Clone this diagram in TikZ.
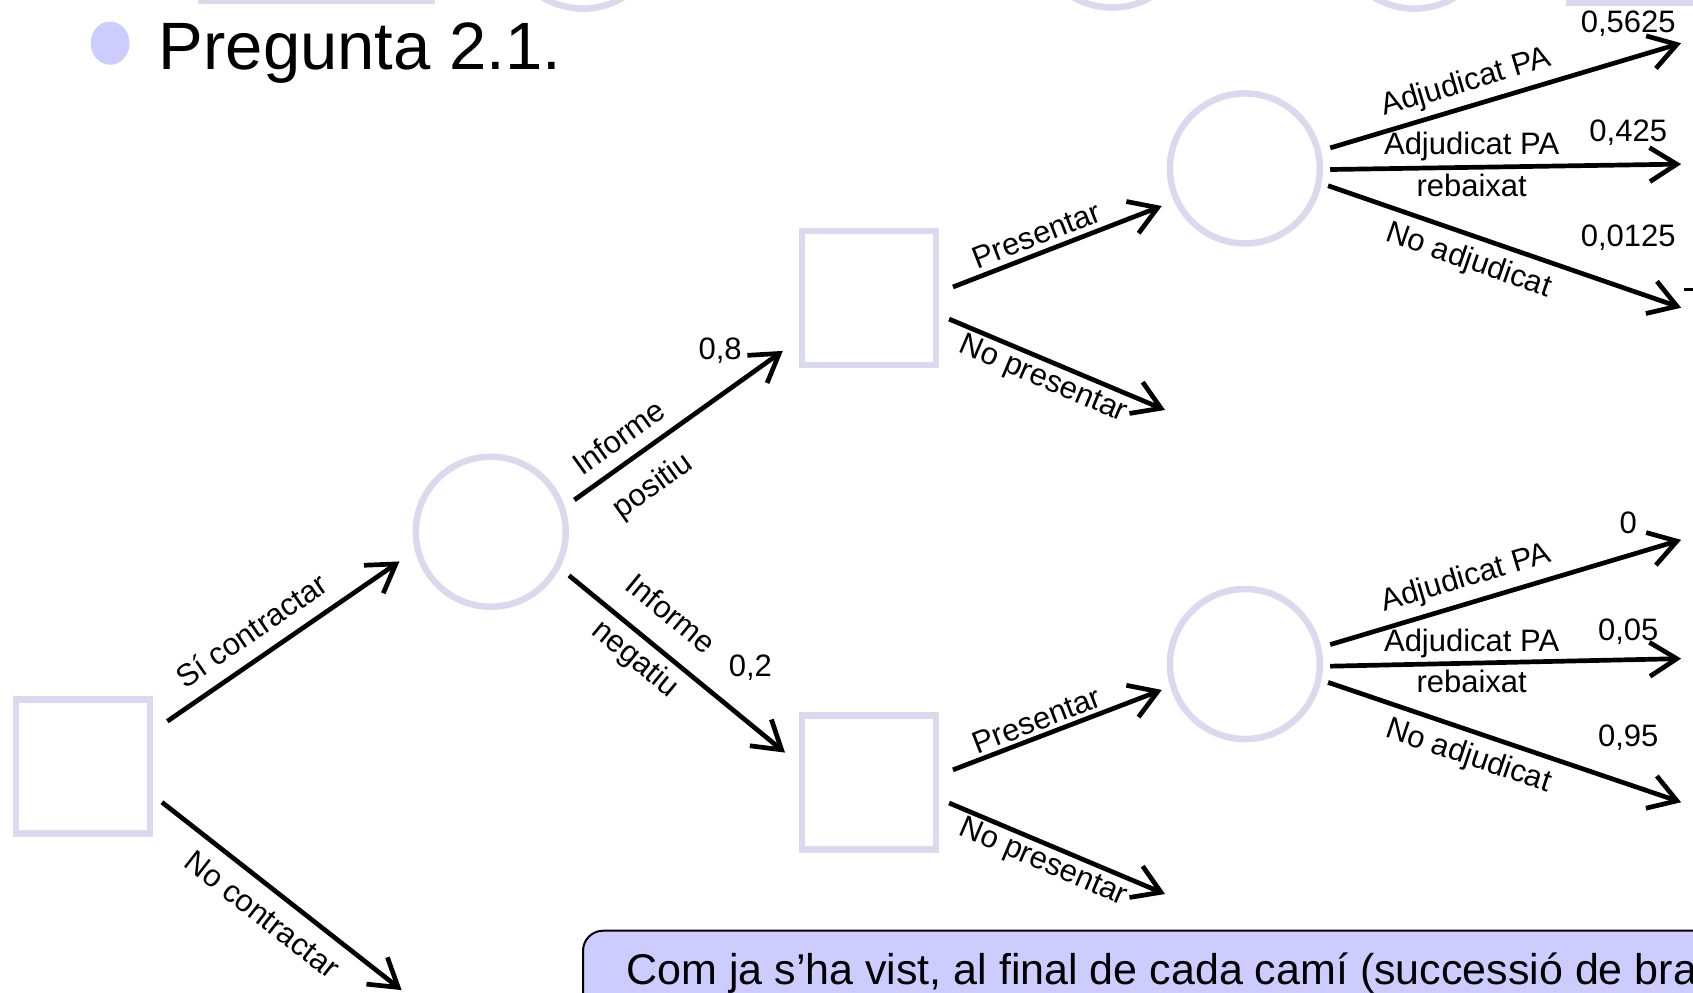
\documentclass[tikz,border=0pt]{standalone}
\usepackage{fontspec}
\setmainfont{Liberation Sans}
\usetikzlibrary{arrows.meta}
\definecolor{shp}{RGB}{218,218,238}
\definecolor{fillb}{RGB}{204,204,255}
\begin{document}
\begin{tikzpicture}[x=1.0797pt, y=-1.0797pt,
  dbox/.style={draw=shp, line width=6.5pt, minimum size=134pt, inner sep=0pt, rectangle},
  cnode/.style={draw=shp, line width=6.5pt, minimum size=150pt, inner sep=0pt, circle},
  arr/.style={line width=4.7pt, -{Straight Barb[length=27pt,width=34pt,line width=4.7pt]}},
  lbl/.style={font=\fontsize{31}{36}\selectfont, inner sep=0pt},
  part/.style={draw=shp, line width=6.5pt},
]
\useasboundingbox (0,0) rectangle (1568,919);
\clip (0,0) rectangle (1568,919);

% partial shapes at the top edge
\draw[part] (186,-80) rectangle (400,1);
\draw[part] (540,-64) circle [radius=72];
\draw[part] (1030,-65) circle [radius=72];
\draw[part] (1310,-64) circle [radius=72];
\fill[shp] (1450,-20) rectangle (1580,6);

% title
\fill[fillb] (102,40) ellipse [x radius=18, y radius=20];
\node[font=\fontsize{67}{74}\selectfont, anchor=base west, inner sep=0pt] (title) at (147,64) {Pregunta 2.1.};

% nodes
\node[dbox] (A) at (77,710) {};
\node[cnode] (C1) at (454.5,492.5) {};
\node[dbox] (B) at (805,276) {};
\node[dbox] (D) at (805,724.5) {};
\node[cnode] (C2) at (1153,156) {};
\node[cnode] (C3) at (1153,615) {};

% arrow end points
\coordinate (a1s) at (155,668);   \coordinate (a1e) at (370,520);
\coordinate (a2s) at (150,743);   \coordinate (a2e) at (372,917);
\coordinate (b1s) at (532,463);   \coordinate (b1e) at (725,325);
\coordinate (b2s) at (527,533);   \coordinate (b2e) at (727,697);
\coordinate (c1s) at (882.6,265.8); \coordinate (c1e) at (1076,190.8);
\coordinate (c2s) at (879,295.5);   \coordinate (c2e) at (1079,379.7);
\coordinate (d1s) at (882.6,713);   \coordinate (d1e) at (1076,639);
\coordinate (d2s) at (879,743.7);   \coordinate (d2e) at (1079,828);
\coordinate (e1s) at (1232,137);  \coordinate (e1e) at (1557,40);
\coordinate (e2s) at (1232,157);  \coordinate (e2e) at (1557,152);
\coordinate (e3s) at (1230,172);  \coordinate (e3e) at (1557,285);
\coordinate (f1s) at (1232,597);  \coordinate (f1e) at (1557,500);
\coordinate (f2s) at (1232,617);  \coordinate (f2e) at (1557,610);
\coordinate (f3s) at (1230,632);  \coordinate (f3e) at (1557,743);

\foreach \s/\e in {a1s/a1e,a2s/a2e,b1s/b1e,b2s/b2e,c1s/c1e,c2s/c2e,d1s/d1e,d2s/d2e,e1s/e1e,e2s/e2e,e3s/e3e,f1s/f1e,f2s/f2e,f3s/f3e}
  \draw[arr] (\s) -- (\e);

% small cut glyph at right edge
\coordinate (g1) at (1560,268); \coordinate (g2) at (1570,268);
\draw[line width=2.5pt] (g1) -- (g2);

% labels
\node[lbl, rotate=34.5] (l1) at (233,583.5) {Sí contractar};
\node[lbl, rotate=-38] (l2) at (243,847) {No contractar};
\node[lbl, rotate=35.6] (l3) at (573,405) {Informe};
\node[lbl, rotate=35.6] (l4) at (605,451) {positiu};
\node[lbl] (l5) at (667,325) {0,8};
\node[lbl, rotate=-39.4] (l6) at (622,568) {Informe};
\node[lbl, rotate=-39.4] (l7) at (588,611) {negatiu};
\node[lbl] (l8) at (695,618) {0,2};
\node[lbl, rotate=21.2] (l9) at (960,217.6) {Presentar};
\node[lbl, rotate=-23.1] (l10) at (966,352) {No presentar};
\node[lbl, rotate=21.2] (l11) at (960,667) {Presentar};
\node[lbl, rotate=-23.1] (l12) at (966,799.5) {No presentar};

\node[lbl, rotate=16.6] (m1) at (1358,77) {Adjudicat PA};
\node[lbl] (m2) at (1363,136) {Adjudicat PA};
\node[lbl] (m3) at (1363,172) {rebaixat};
\node[lbl, rotate=-19.1] (m4) at (1360,242) {No adjudicat};
\node[lbl] (m5) at (1508,22) {0,5625};
\node[lbl] (m6) at (1508,123) {0,425};
\node[lbl] (m7) at (1508,220) {0,0125};

\node[lbl, rotate=16.6] (n1) at (1358,536) {Adjudicat PA};
\node[lbl] (n2) at (1363,596) {Adjudicat PA};
\node[lbl] (n3) at (1363,631) {rebaixat};
\node[lbl, rotate=-18.7] (n4) at (1360,701) {No adjudicat};
\node[lbl] (n5) at (1508,484) {0};
\node[lbl] (n6) at (1508,585) {0,05};
\node[lbl] (n7) at (1508,683) {0,95};

% bottom text box
\draw[fill=fillb, line width=2pt, rounded corners=20pt] (540,862) rectangle (1640,1000);
\node[font=\fontsize{43}{50}\selectfont, anchor=base west, inner sep=0pt] (note) at (580,912) {Com ja s’ha vist, al final de cada camí (successió de branques)};
\end{tikzpicture}
\end{document}
